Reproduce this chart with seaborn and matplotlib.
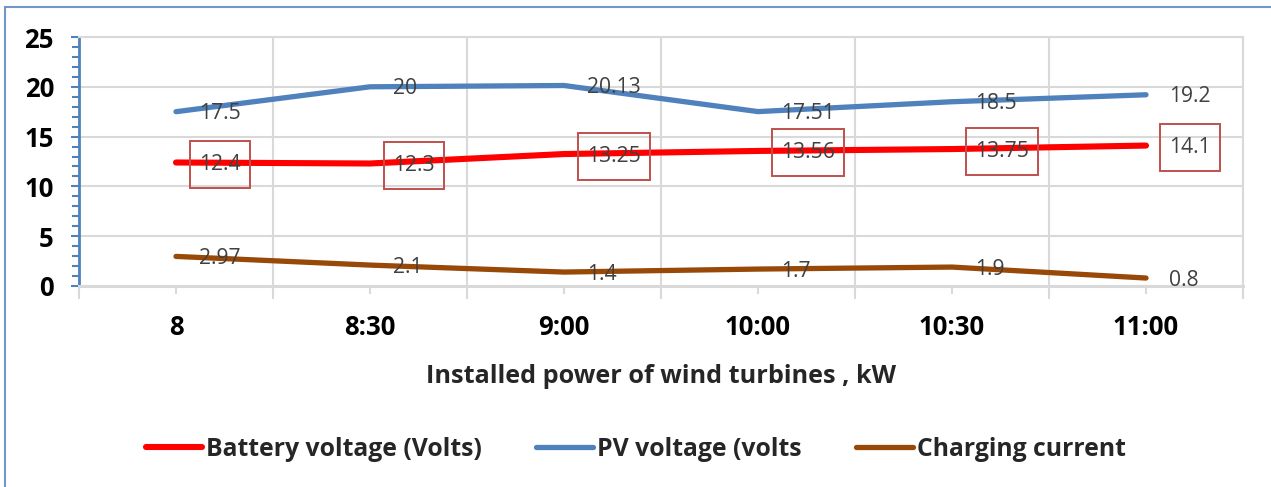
import pandas as pd
import matplotlib
matplotlib.use("Agg")
import matplotlib.pyplot as plt
from matplotlib.patches import Rectangle
from matplotlib.path import Path
from matplotlib.ticker import MultipleLocator, FixedLocator
import seaborn as sns

# dane z wykresu
czas = ["8", "8:30", "9:00", "10:00", "10:30", "11:00"]
battery_voltage = [12.4, 12.3, 13.25, 13.56, 13.75, 14.1]
pv_voltage = [17.5, 20, 20.13, 17.51, 18.5, 19.2]
charging_current = [2.97, 2.1, 1.4, 1.7, 1.9, 0.8]

serie = {
    "Battery voltage (Volts)": battery_voltage,
    "PV voltage (volts": pv_voltage,
    "Charging current": charging_current,
}
kolory = {
    "Battery voltage (Volts)": "#FF0000",
    "PV voltage (volts": "#4F81BD",
    "Charging current": "#984807",
}

df = pd.concat(
    [pd.DataFrame({"czas": czas, "wartosc": v, "seria": k}) for k, v in serie.items()],
    ignore_index=True,
)


def ramka(x0, y0, width, height, mutation_size):
    # prostokat z innym odstepem w poziomie i w pionie (w pikselach)
    px, py = 9.5, 13
    x0, y0 = x0 - px, y0 - py
    x1, y1 = x0 + width + 2 * px, y0 + height + 2 * py
    return Path([(x0, y0), (x1, y0), (x1, y1), (x0, y1), (x0, y0)], closed=True)


sns.set_style("white")
plt.rcParams["font.family"] = ["Open Sans", "DejaVu Sans"]

fig = plt.figure(figsize=(12.71, 4.87), dpi=100)
ax = fig.add_axes([79 / 1271, 1 - 286 / 487, (1243 - 79) / 1271, (286 - 37) / 487])

sns.lineplot(data=df, x="czas", y="wartosc", hue="seria", palette=kolory,
             linewidth=3.8, solid_capstyle="round", sort=False, ax=ax)
# linia czerwona jest troche grubsza
ax.lines[0].set_linewidth(4.4)

ax.set_xlim(-0.5, len(czas) - 0.5)
ax.set_ylim(0, 25)

# siatka
grid_kolor = "#D9D9D9"
ax.yaxis.set_major_locator(MultipleLocator(5))
ax.yaxis.set_minor_locator(MultipleLocator(1))
ax.set_xticks(range(len(czas)))
ax.set_xticklabels(czas)
ax.xaxis.set_minor_locator(FixedLocator([i - 0.5 for i in range(len(czas) + 1)]))
ax.grid(axis="y", which="major", color=grid_kolor, lw=1.5)
ax.grid(axis="x", which="minor", color=grid_kolor, lw=1.5)
ax.set_axisbelow(True)

for s in ["top", "right"]:
    ax.spines[s].set_color(grid_kolor)
    ax.spines[s].set_linewidth(1.5)
ax.spines["bottom"].set_color(grid_kolor)
ax.spines["bottom"].set_linewidth(2.2)
ax.spines["left"].set_color("#4F81BD")
ax.spines["left"].set_linewidth(2)

ax.tick_params(axis="y", which="both", direction="out", color="#4F81BD", width=1.5, left=True)
ax.tick_params(axis="y", which="major", length=6, pad=12, labelsize=18.5, labelcolor="black")
ax.tick_params(axis="y", which="minor", length=5)
ax.tick_params(axis="x", which="major", direction="out", color=grid_kolor, width=1.5,
               length=6, pad=14, labelsize=18.5, labelcolor="black", bottom=True)
ax.tick_params(axis="x", which="minor", direction="out", color=grid_kolor, width=1.5,
               length=9, bottom=True)
for lab in ax.get_xticklabels() + ax.get_yticklabels():
    lab.set_fontweight("bold")

ax.set_xlabel("Installed power of wind turbines , kW", fontsize=18.2, fontweight="bold", labelpad=17)
ax.set_ylabel("")

# etykiety danych
for nazwa, wartosci in serie.items():
    for i, v in enumerate(wartosci):
        kw = {}
        if nazwa.startswith("Battery"):
            kw["bbox"] = dict(boxstyle=ramka, fc="none", ec="#C0504D", lw=1.4)
        ax.annotate(f"{v:g}", xy=(i, v), xytext=(23, -2), textcoords="offset pixels",
                    ha="left", va="center", fontsize=15.2, color="#404040", **kw)

# legenda pod wykresem
uchwyty, etykiety = ax.get_legend_handles_labels()
ax.get_legend().remove()
leg = fig.legend(uchwyty, etykiety, loc="center", bbox_to_anchor=(0.5, 1 - 449 / 487),
                 ncol=3, frameon=False, handlelength=2.3, handletextpad=0.15,
                 columnspacing=2.2, prop={"size": 17.8, "weight": "bold"})
for h in leg.get_lines():
    h.set_linewidth(3.8)
    h.set_solid_capstyle("round")
leg.get_lines()[0].set_linewidth(4.4)

# ramka wokol wykresu
fig.add_artist(Rectangle((5 / 1271, -0.1), 1.2, 1.1 - 7 / 487, transform=fig.transFigure,
                         fill=False, ec="#6F97C9", lw=1.5))

fig.savefig("out.png", dpi=100)
